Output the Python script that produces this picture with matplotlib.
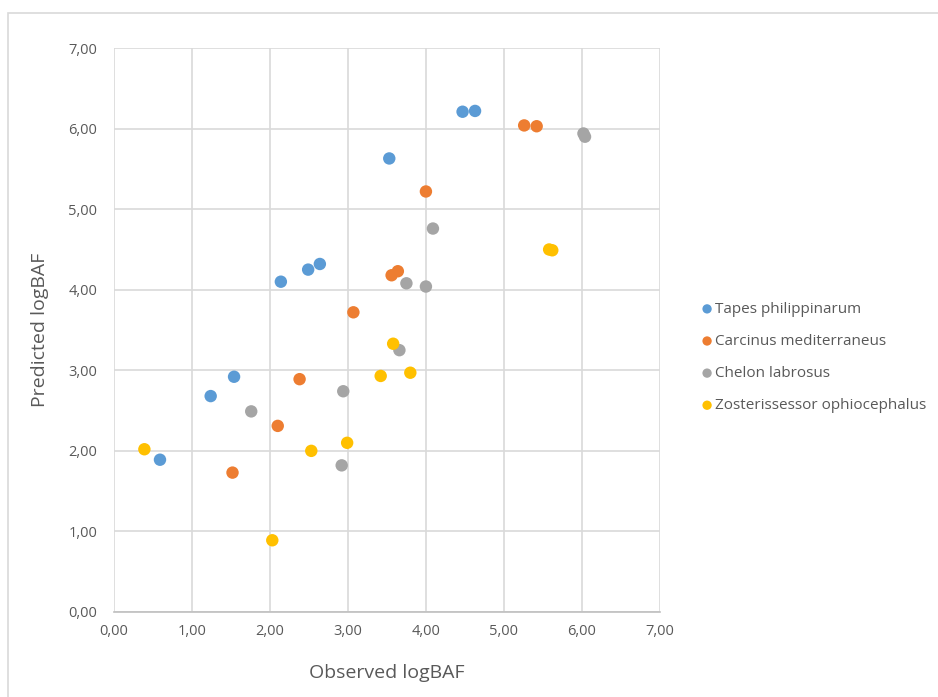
import matplotlib.pyplot as plt
import matplotlib.patches as patches
from matplotlib.ticker import FuncFormatter

plt.rcParams['font.family'] = ['Open Sans', 'DejaVu Sans']

# observed / predicted logBAF per species
tapes_obs = [0.59, 1.24, 1.54, 2.14, 2.49, 2.64, 3.53, 4.47, 4.63]
tapes_pred = [1.89, 2.68, 2.92, 4.10, 4.25, 4.32, 5.63, 6.21, 6.22]

carcinus_obs = [1.52, 2.10, 2.38, 3.07, 3.56, 3.64, 4.00, 5.26, 5.42]
carcinus_pred = [1.73, 2.31, 2.89, 3.72, 4.18, 4.23, 5.22, 6.04, 6.03]

chelon_obs = [1.76, 2.92, 2.94, 3.66, 3.75, 4.00, 4.09, 6.02, 6.04]
chelon_pred = [2.49, 1.82, 2.74, 3.25, 4.08, 4.04, 4.76, 5.94, 5.90]

zoster_obs = [0.39, 2.03, 2.53, 2.99, 3.42, 3.58, 3.80, 5.58, 5.62]
zoster_pred = [2.02, 0.89, 2.00, 2.10, 2.93, 3.33, 2.97, 4.50, 4.49]

species = ['Tapes philippinarum', 'Carcinus mediterraneus',
           'Chelon labrosus', 'Zosterissessor ophiocephalus']
colors = ['#5B9BD5', '#ED7D31', '#A5A5A5', '#FFC000']
series = [(tapes_obs, tapes_pred), (carcinus_obs, carcinus_pred),
          (chelon_obs, chelon_pred), (zoster_obs, zoster_pred)]

fig = plt.figure(figsize=(9.38, 6.97), dpi=100)
ax = fig.add_axes([0.1215, 0.122, 0.582, 0.809])

# outer chart frame
fig.patches.append(patches.Rectangle((0.0085, -0.1), 1.2, 0.1 + 0.9813,
                                     transform=fig.transFigure, fill=False,
                                     edgecolor='#D9D9D9', linewidth=1.2))

for (xs, ys), c, name in zip(series, colors, species):
    ax.scatter(xs, ys, s=80, color=c, label=name, edgecolors='none', zorder=3)

ax.set_xlim(0, 7)
ax.set_ylim(0, 7)
ticks = list(range(8))
ax.set_xticks(ticks)
ax.set_yticks(ticks)
fmt = FuncFormatter(lambda v, p: f'{v:.2f}'.replace('.', ','))
ax.xaxis.set_major_formatter(fmt)
ax.yaxis.set_major_formatter(fmt)
ax.grid(True, color='#D9D9D9', linewidth=1.2, zorder=0)
ax.set_axisbelow(True)
for s in ['top', 'right', 'left']:
    ax.spines[s].set_visible(False)
ax.spines['bottom'].set_color('#BFBFBF')
ax.spines['bottom'].set_linewidth(1.2)
ax.tick_params(length=0, labelsize=10.5, colors='#595959')
ax.tick_params(axis='y', pad=12)
ax.tick_params(axis='x', pad=9)

ax.set_xlabel('Observed logBAF', fontsize=14, color='#595959', labelpad=18)
ax.set_ylabel('Predicted logBAF', fontsize=14, color='#595959', labelpad=14)

fig.legend(loc='center left', bbox_to_anchor=(0.731, 0.487), frameon=False,
           fontsize=11, labelcolor='#595959', handletextpad=0.05,
           labelspacing=1.12, markerscale=0.75, handlelength=1.0)

fig.savefig('out.png', dpi=100)
